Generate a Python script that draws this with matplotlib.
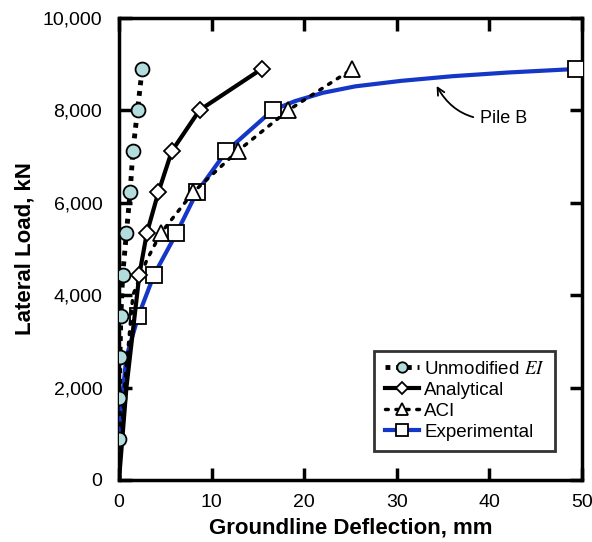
import numpy as np
import matplotlib.pyplot as plt

plt.rcParams['font.family'] = 'Liberation Sans'
plt.rcParams['mathtext.fontset'] = 'stix'

# loads in kN (200 kip steps)
unmod_load = [0, 890, 1779, 2669, 3558, 4448, 5338, 6227, 7117, 8006, 8896]
unmod_defl = [0, 0.0, 0.05, 0.1, 0.2, 0.4, 0.8, 1.2, 1.5, 2.0, 2.5]

anal_load = [0, 2000, 4448, 5338, 6227, 7117, 8006, 8896]
anal_defl = [0, 0.8, 2.2, 3.0, 4.25, 5.7, 8.7, 15.4]

aci_load = [0, 2000, 4000, 4760, 5338, 6227, 7117, 8006, 8896]
aci_defl = [0, 0.6, 1.5, 3.0, 4.5, 8.0, 12.8, 18.3, 25.2]

exp_load = [0, 890, 1779, 2669, 3558, 4448, 5338, 6227, 7117, 8006,
            8200, 8380, 8520, 8640, 8740, 8820, 8896]
exp_defl = [0, 0.1, 0.35, 0.8, 2.1, 3.8, 6.2, 8.4, 11.6, 16.6,
            19.0, 22.0, 25.5, 30.5, 36.0, 42.0, 49.3]
exp_marks = [4, 5, 6, 7, 8, 9, 16]

fig = plt.figure(figsize=(5.92, 5.42), dpi=100)
ax = fig.add_axes([119/592, 62/542, 463/592, 462/542])

blue = '#1537c8'
ax.plot(exp_defl, exp_load, color=blue, lw=3, marker='s', ms=11,
        mfc='white', mec='black', mew=1.3, markevery=exp_marks,
        label='Experimental', zorder=3)
ax.plot(aci_defl, aci_load, color='black', lw=2.5, ls=(0, (0.8, 2.2)),
        dash_capstyle='round', marker='^', ms=11, mfc='white', mec='black',
        mew=1.3, markevery=[4, 5, 6, 7, 8], label='ACI', zorder=4)
ax.plot(anal_defl, anal_load, color='black', lw=3, marker='D', ms=8,
        mfc='white', mec='black', mew=1.3, markevery=[2, 3, 4, 5, 6, 7],
        label='Analytical', zorder=5)
ax.plot(unmod_defl, unmod_load, color='black', lw=3.5, ls=(0, (1, 1.2)),
        marker='o', ms=10, mfc='#b3dcdc', mec='black', mew=1.3,
        markevery=list(range(1, 11)), label='Unmodified $\\mathit{EI}$',
        zorder=6)

ax.set_xlim(0, 50)
ax.set_ylim(0, 10000)
ax.set_xticks(np.arange(0, 51, 10))
ax.set_yticks(np.arange(0, 10001, 2000))
ax.set_yticklabels(['{:,}'.format(v) for v in range(0, 10001, 2000)])
ax.tick_params(direction='in', length=9, width=2.5, labelsize=14,
               top=True, right=True)
ax.tick_params(axis='x', pad=10)
ax.tick_params(axis='y', pad=12)
for s in ax.spines.values():
    s.set_linewidth(2.5)

ax.set_xlabel('Groundline Deflection, mm', fontsize=16, fontweight='bold',
              labelpad=5)
ax.set_ylabel('Lateral Load, kN', fontsize=16, fontweight='bold',
              labelpad=5)

ax.annotate('Pile B', xy=(34.3, 8530), xytext=(39.0, 7830),
            fontsize=13, va='center', ha='left',
            arrowprops=dict(arrowstyle='->', color='black', lw=1.3,
                            connectionstyle='arc3,rad=-0.35',
                            shrinkA=3, shrinkB=0))

h, l = ax.get_legend_handles_labels()
leg = ax.legend(h[::-1], l[::-1], loc='lower right',
                bbox_to_anchor=(0.942, 0.063), fontsize=13.5,
                frameon=True, fancybox=False, edgecolor='black',
                handlelength=1.8, handletextpad=0.3, labelspacing=0.2,
                borderpad=0.55, borderaxespad=0, markerscale=0.75)
leg.get_frame().set_linewidth(2)

fig.savefig('out.png', dpi=100)
